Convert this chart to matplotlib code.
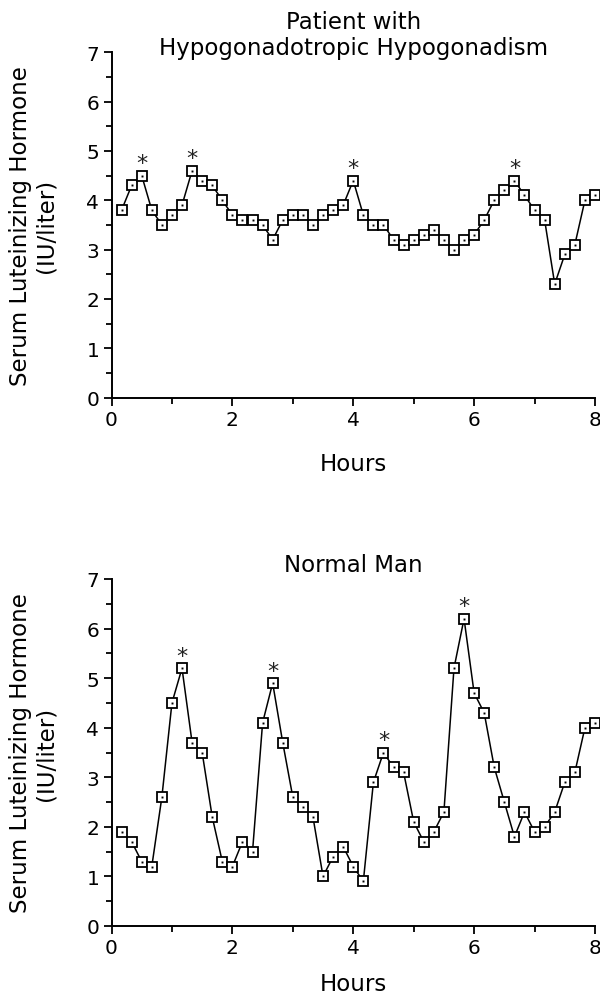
import matplotlib
matplotlib.use("Agg")
import matplotlib.pyplot as plt
from matplotlib.ticker import MultipleLocator

# ---- data ----
hours = [(i + 1) / 6 for i in range(48)]

patient_lh = [3.8, 4.3, 4.5, 3.8, 3.5, 3.7, 3.9, 4.6, 4.4, 4.3, 4.0, 3.7,
              3.6, 3.6, 3.5, 3.2, 3.6, 3.7, 3.7, 3.5, 3.7, 3.8, 3.9, 4.4,
              3.7, 3.5, 3.5, 3.2, 3.1, 3.2, 3.3, 3.4, 3.2, 3.0, 3.2, 3.3,
              3.6, 4.0, 4.2, 4.4, 4.1, 3.8, 3.6, 2.3, 2.9, 3.1, 4.0, 4.1]
patient_peaks = [2, 7, 23, 39]

normal_lh = [1.9, 1.7, 1.3, 1.2, 2.6, 4.5, 5.2, 3.7, 3.5, 2.2, 1.3, 1.2,
             1.7, 1.5, 4.1, 4.9, 3.7, 2.6, 2.4, 2.2, 1.0, 1.4, 1.6, 1.2,
             0.9, 2.9, 3.5, 3.2, 3.1, 2.1, 1.7, 1.9, 2.3, 5.2, 6.2, 4.7,
             4.3, 3.2, 2.5, 1.8, 2.3, 1.9, 2.0, 2.3, 2.9, 3.1, 4.0, 4.1]
normal_peaks = [6, 15, 26, 34]

titles = ["Patient with\nHypogonadotropic Hypogonadism", "Normal Man"]
ylabel = "Serum Luteinizing Hormone\n(IU/liter)"
xlabel = "Hours"
xticks = [0, 2, 4, 6, 8]
yticks = [0, 1, 2, 3, 4, 5, 6, 7]

plt.rcParams['font.family'] = ['DejaVu Sans']

fig = plt.figure(figsize=(6.0, 9.95), dpi=100)
W, H = 600, 995

def axes_rect(left, right, top, bottom):
    return [left / W, 1 - bottom / H, (right - left) / W, (bottom - top) / H]

ax1 = fig.add_axes(axes_rect(111.5, 595, 53.3, 398.5))
ax2 = fig.add_axes(axes_rect(111.5, 595, 580, 927))

for ax, vals, peaks, title, tpad, xl_y in [
        (ax1, patient_lh, patient_peaks, titles[0], -1.0, -0.158),
        (ax2, normal_lh, normal_peaks, titles[1], 5.5, -0.1335)]:
    ax.plot(hours, vals, color='black', lw=1.1, marker='s', ms=6.6,
            mfc='white', mec='black', mew=1.3, clip_on=False, zorder=3)
    ax.plot(hours, vals, ls='none', marker='s', ms=1.4, mfc='black',
            mec='black', mew=0, clip_on=False, zorder=4)
    for p in peaks:
        ax.annotate('*', xy=(hours[p], vals[p]), xytext=(0, 4.5),
                    textcoords='offset points', ha='center', va='baseline',
                    fontsize=16, color='#222222')
    ax.set_xlim(0, 8)
    ax.set_ylim(0, 7)
    ax.set_xticks(xticks)
    ax.set_yticks(yticks)
    ax.xaxis.set_minor_locator(MultipleLocator(1))
    ax.yaxis.set_minor_locator(MultipleLocator(0.5))
    for s in ['top', 'right']:
        ax.spines[s].set_visible(False)
    for s in ['left', 'bottom']:
        ax.spines[s].set_linewidth(1.4)
    ax.tick_params(which='major', direction='out', length=5.8, width=1.3,
                   labelsize=14.5, pad=3)
    ax.tick_params(which='minor', direction='out', length=4.0, width=1.3)
    ax.set_title(title, fontsize=16.5, y=1.0, pad=tpad, linespacing=1.15)
    ax.set_xlabel(xlabel, fontsize=16.5)
    ax.xaxis.set_label_coords(0.5, xl_y)
    ax.set_ylabel(ylabel, fontsize=16.5, linespacing=1.15)
    ax.yaxis.set_label_coords(-0.111, 0.5)

fig.savefig('out.png', dpi=100, facecolor='white')
